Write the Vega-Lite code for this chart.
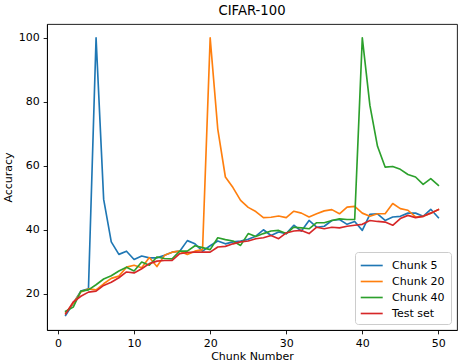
{
  "$schema": "https://vega.github.io/schema/vega-lite/v6.json",
  "width": 410,
  "height": 306,
  "autosize": {"type": "none"},
  "padding": {"left": 47, "top": 24, "right": 1, "bottom": 32},
  "title": {"text": "CIFAR-100", "fontSize": 13.2, "fontWeight": "normal", "offset": 6, "color": "black", "font": "DejaVu Sans"},
  "data": {"values": [
    {"chunk":1,"series":"Chunk 5","acc":13.2},{"chunk":2,"series":"Chunk 5","acc":17.0},{"chunk":3,"series":"Chunk 5","acc":20.8},{"chunk":4,"series":"Chunk 5","acc":21.5},{"chunk":5,"series":"Chunk 5","acc":100},
    {"chunk":6,"series":"Chunk 5","acc":49.5},{"chunk":7,"series":"Chunk 5","acc":36.2},{"chunk":8,"series":"Chunk 5","acc":32.3},{"chunk":9,"series":"Chunk 5","acc":33.3},{"chunk":10,"series":"Chunk 5","acc":30.7},
    {"chunk":11,"series":"Chunk 5","acc":31.8},{"chunk":12,"series":"Chunk 5","acc":31.2},{"chunk":13,"series":"Chunk 5","acc":31.2},{"chunk":14,"series":"Chunk 5","acc":32.0},{"chunk":15,"series":"Chunk 5","acc":33.0},
    {"chunk":16,"series":"Chunk 5","acc":33.3},{"chunk":17,"series":"Chunk 5","acc":36.6},{"chunk":18,"series":"Chunk 5","acc":35.6},{"chunk":19,"series":"Chunk 5","acc":33.3},{"chunk":20,"series":"Chunk 5","acc":35.0},
    {"chunk":21,"series":"Chunk 5","acc":36.5},{"chunk":22,"series":"Chunk 5","acc":35.6},{"chunk":23,"series":"Chunk 5","acc":36.2},{"chunk":24,"series":"Chunk 5","acc":36.5},{"chunk":25,"series":"Chunk 5","acc":37.0},
    {"chunk":26,"series":"Chunk 5","acc":38.0},{"chunk":27,"series":"Chunk 5","acc":40.0},{"chunk":28,"series":"Chunk 5","acc":38.2},{"chunk":29,"series":"Chunk 5","acc":39.3},{"chunk":30,"series":"Chunk 5","acc":38.8},
    {"chunk":31,"series":"Chunk 5","acc":41.4},{"chunk":32,"series":"Chunk 5","acc":39.6},{"chunk":33,"series":"Chunk 5","acc":42.9},{"chunk":34,"series":"Chunk 5","acc":40.8},{"chunk":35,"series":"Chunk 5","acc":41.1},
    {"chunk":36,"series":"Chunk 5","acc":42.9},{"chunk":37,"series":"Chunk 5","acc":43.2},{"chunk":38,"series":"Chunk 5","acc":41.7},{"chunk":39,"series":"Chunk 5","acc":42.6},{"chunk":40,"series":"Chunk 5","acc":39.8},
    {"chunk":41,"series":"Chunk 5","acc":44.8},{"chunk":42,"series":"Chunk 5","acc":45.0},{"chunk":43,"series":"Chunk 5","acc":42.9},{"chunk":44,"series":"Chunk 5","acc":44.0},{"chunk":45,"series":"Chunk 5","acc":44.2},
    {"chunk":46,"series":"Chunk 5","acc":45.2},{"chunk":47,"series":"Chunk 5","acc":45.2},{"chunk":48,"series":"Chunk 5","acc":44.2},{"chunk":49,"series":"Chunk 5","acc":46.4},{"chunk":50,"series":"Chunk 5","acc":43.8},

    {"chunk":1,"series":"Chunk 20","acc":14.0},{"chunk":2,"series":"Chunk 20","acc":17.0},{"chunk":3,"series":"Chunk 20","acc":20.5},{"chunk":4,"series":"Chunk 20","acc":21.5},{"chunk":5,"series":"Chunk 20","acc":21.2},
    {"chunk":6,"series":"Chunk 20","acc":23.1},{"chunk":7,"series":"Chunk 20","acc":24.8},{"chunk":8,"series":"Chunk 20","acc":25.5},{"chunk":9,"series":"Chunk 20","acc":28.3},{"chunk":10,"series":"Chunk 20","acc":28.9},
    {"chunk":11,"series":"Chunk 20","acc":28.1},{"chunk":12,"series":"Chunk 20","acc":31.3},{"chunk":13,"series":"Chunk 20","acc":28.5},{"chunk":14,"series":"Chunk 20","acc":32.0},{"chunk":15,"series":"Chunk 20","acc":33.0},
    {"chunk":16,"series":"Chunk 20","acc":33.3},{"chunk":17,"series":"Chunk 20","acc":32.3},{"chunk":18,"series":"Chunk 20","acc":33.3},{"chunk":19,"series":"Chunk 20","acc":33.8},{"chunk":20,"series":"Chunk 20","acc":100},
    {"chunk":21,"series":"Chunk 20","acc":71.5},{"chunk":22,"series":"Chunk 20","acc":56.5},{"chunk":23,"series":"Chunk 20","acc":53.2},{"chunk":24,"series":"Chunk 20","acc":49.2},{"chunk":25,"series":"Chunk 20","acc":47.0},
    {"chunk":26,"series":"Chunk 20","acc":45.7},{"chunk":27,"series":"Chunk 20","acc":43.8},{"chunk":28,"series":"Chunk 20","acc":43.9},{"chunk":29,"series":"Chunk 20","acc":44.3},{"chunk":30,"series":"Chunk 20","acc":43.8},
    {"chunk":31,"series":"Chunk 20","acc":45.8},{"chunk":32,"series":"Chunk 20","acc":45.2},{"chunk":33,"series":"Chunk 20","acc":44.0},{"chunk":34,"series":"Chunk 20","acc":45.0},{"chunk":35,"series":"Chunk 20","acc":45.9},
    {"chunk":36,"series":"Chunk 20","acc":46.3},{"chunk":37,"series":"Chunk 20","acc":45.0},{"chunk":38,"series":"Chunk 20","acc":47.1},{"chunk":39,"series":"Chunk 20","acc":47.3},{"chunk":40,"series":"Chunk 20","acc":45.2},
    {"chunk":41,"series":"Chunk 20","acc":44.2},{"chunk":42,"series":"Chunk 20","acc":45.0},{"chunk":43,"series":"Chunk 20","acc":45.0},{"chunk":44,"series":"Chunk 20","acc":48.2},{"chunk":45,"series":"Chunk 20","acc":46.6},
    {"chunk":46,"series":"Chunk 20","acc":46.1},{"chunk":47,"series":"Chunk 20","acc":44.0},{"chunk":48,"series":"Chunk 20","acc":44.2},{"chunk":49,"series":"Chunk 20","acc":45.2},{"chunk":50,"series":"Chunk 20","acc":46.3},

    {"chunk":1,"series":"Chunk 40","acc":14.5},{"chunk":2,"series":"Chunk 40","acc":15.8},{"chunk":3,"series":"Chunk 40","acc":20.8},{"chunk":4,"series":"Chunk 40","acc":21.2},{"chunk":5,"series":"Chunk 40","acc":22.8},
    {"chunk":6,"series":"Chunk 40","acc":24.6},{"chunk":7,"series":"Chunk 40","acc":25.6},{"chunk":8,"series":"Chunk 40","acc":27.1},{"chunk":9,"series":"Chunk 40","acc":28.3},{"chunk":10,"series":"Chunk 40","acc":27.1},
    {"chunk":11,"series":"Chunk 40","acc":29.9},{"chunk":12,"series":"Chunk 40","acc":28.9},{"chunk":13,"series":"Chunk 40","acc":31.5},{"chunk":14,"series":"Chunk 40","acc":31.0},{"chunk":15,"series":"Chunk 40","acc":30.9},
    {"chunk":16,"series":"Chunk 40","acc":33.3},{"chunk":17,"series":"Chunk 40","acc":33.3},{"chunk":18,"series":"Chunk 40","acc":35.0},{"chunk":19,"series":"Chunk 40","acc":34.4},{"chunk":20,"series":"Chunk 40","acc":33.8},
    {"chunk":21,"series":"Chunk 40","acc":37.5},{"chunk":22,"series":"Chunk 40","acc":36.9},{"chunk":23,"series":"Chunk 40","acc":36.5},{"chunk":24,"series":"Chunk 40","acc":35.1},{"chunk":25,"series":"Chunk 40","acc":38.8},
    {"chunk":26,"series":"Chunk 40","acc":37.9},{"chunk":27,"series":"Chunk 40","acc":38.8},{"chunk":28,"series":"Chunk 40","acc":39.6},{"chunk":29,"series":"Chunk 40","acc":39.8},{"chunk":30,"series":"Chunk 40","acc":38.8},
    {"chunk":31,"series":"Chunk 40","acc":40.8},{"chunk":32,"series":"Chunk 40","acc":40.6},{"chunk":33,"series":"Chunk 40","acc":40.3},{"chunk":34,"series":"Chunk 40","acc":42.2},{"chunk":35,"series":"Chunk 40","acc":42.2},
    {"chunk":36,"series":"Chunk 40","acc":42.9},{"chunk":37,"series":"Chunk 40","acc":43.4},{"chunk":38,"series":"Chunk 40","acc":43.2},{"chunk":39,"series":"Chunk 40","acc":43.2},{"chunk":40,"series":"Chunk 40","acc":100},
    {"chunk":41,"series":"Chunk 40","acc":78.9},{"chunk":42,"series":"Chunk 40","acc":66.1},{"chunk":43,"series":"Chunk 40","acc":59.6},{"chunk":44,"series":"Chunk 40","acc":59.8},{"chunk":45,"series":"Chunk 40","acc":58.9},
    {"chunk":46,"series":"Chunk 40","acc":57.3},{"chunk":47,"series":"Chunk 40","acc":56.5},{"chunk":48,"series":"Chunk 40","acc":54.2},{"chunk":49,"series":"Chunk 40","acc":56.0},{"chunk":50,"series":"Chunk 40","acc":53.9},

    {"chunk":1,"series":"Test set","acc":13.7},{"chunk":2,"series":"Test set","acc":17.4},{"chunk":3,"series":"Test set","acc":19.2},{"chunk":4,"series":"Test set","acc":20.5},{"chunk":5,"series":"Test set","acc":20.8},
    {"chunk":6,"series":"Test set","acc":22.6},{"chunk":7,"series":"Test set","acc":23.6},{"chunk":8,"series":"Test set","acc":25.0},{"chunk":9,"series":"Test set","acc":26.8},{"chunk":10,"series":"Test set","acc":26.5},
    {"chunk":11,"series":"Test set","acc":27.8},{"chunk":12,"series":"Test set","acc":29.4},{"chunk":13,"series":"Test set","acc":30.2},{"chunk":14,"series":"Test set","acc":30.4},{"chunk":15,"series":"Test set","acc":30.4},
    {"chunk":16,"series":"Test set","acc":32.5},{"chunk":17,"series":"Test set","acc":32.9},{"chunk":18,"series":"Test set","acc":33.0},{"chunk":19,"series":"Test set","acc":33.0},{"chunk":20,"series":"Test set","acc":33.0},
    {"chunk":21,"series":"Test set","acc":34.6},{"chunk":22,"series":"Test set","acc":34.8},{"chunk":23,"series":"Test set","acc":35.6},{"chunk":24,"series":"Test set","acc":36.2},{"chunk":25,"series":"Test set","acc":36.5},
    {"chunk":26,"series":"Test set","acc":37.2},{"chunk":27,"series":"Test set","acc":37.5},{"chunk":28,"series":"Test set","acc":38.2},{"chunk":29,"series":"Test set","acc":37.2},{"chunk":30,"series":"Test set","acc":39.0},
    {"chunk":31,"series":"Test set","acc":39.6},{"chunk":32,"series":"Test set","acc":39.8},{"chunk":33,"series":"Test set","acc":38.8},{"chunk":34,"series":"Test set","acc":40.8},{"chunk":35,"series":"Test set","acc":40.3},
    {"chunk":36,"series":"Test set","acc":40.8},{"chunk":37,"series":"Test set","acc":40.6},{"chunk":38,"series":"Test set","acc":41.1},{"chunk":39,"series":"Test set","acc":41.4},{"chunk":40,"series":"Test set","acc":41.7},
    {"chunk":41,"series":"Test set","acc":42.9},{"chunk":42,"series":"Test set","acc":42.6},{"chunk":43,"series":"Test set","acc":42.4},{"chunk":44,"series":"Test set","acc":41.4},{"chunk":45,"series":"Test set","acc":43.5},
    {"chunk":46,"series":"Test set","acc":44.5},{"chunk":47,"series":"Test set","acc":43.8},{"chunk":48,"series":"Test set","acc":44.2},{"chunk":49,"series":"Test set","acc":45.2},{"chunk":50,"series":"Test set","acc":46.3}
  ]},
  "mark": {"type": "line", "strokeWidth": 1.65, "strokeJoin": "round", "strokeCap": "square", "clip": true},
  "encoding": {
    "x": {"field": "chunk", "type": "quantitative", "scale": {"domain": [-1.45, 52.45], "nice": false, "zero": false},
      "axis": {"values": [0, 10, 20, 30, 40, 50], "title": "Chunk Number", "labelFlush": false, "titlePadding": 1.5}},
    "y": {"field": "acc", "type": "quantitative", "scale": {"domain": [8.65, 104.35], "nice": false, "zero": false},
      "axis": {"values": [20, 40, 60, 80, 100], "title": "Accuracy", "labelFlush": false, "titlePadding": 5}},
    "color": {"field": "series", "type": "nominal",
      "scale": {"domain": ["Chunk 5", "Chunk 20", "Chunk 40", "Test set"], "range": ["#1f77b4", "#ff7f0e", "#2ca02c", "#d62728"]},
      "legend": {"title": null, "orient": "bottom-right", "symbolType": "M-1.11,0H2.03", "symbolStrokeWidth": 1.65, "symbolSize": 196,
        "labelFontSize": 11, "labelColor": "black", "labelOffset": 15.6, "fillColor": "rgba(255,255,255,0.8)", "strokeColor": "#cccccc",
        "cornerRadius": 3, "padding": 5.5, "rowPadding": 3, "offset": 6}}
  },
  "config": {
    "font": "DejaVu Sans",
    "view": {"stroke": "black", "strokeWidth": 0.88},
    "axis": {"grid": false, "domainColor": "black", "domainWidth": 0.88, "tickColor": "black", "tickWidth": 0.88, "tickSize": 3.85,
      "labelFontSize": 11, "labelColor": "black", "labelPadding": 3.85, "titleFontSize": 11, "titleFontWeight": "normal", "titleColor": "black"}
  }
}
